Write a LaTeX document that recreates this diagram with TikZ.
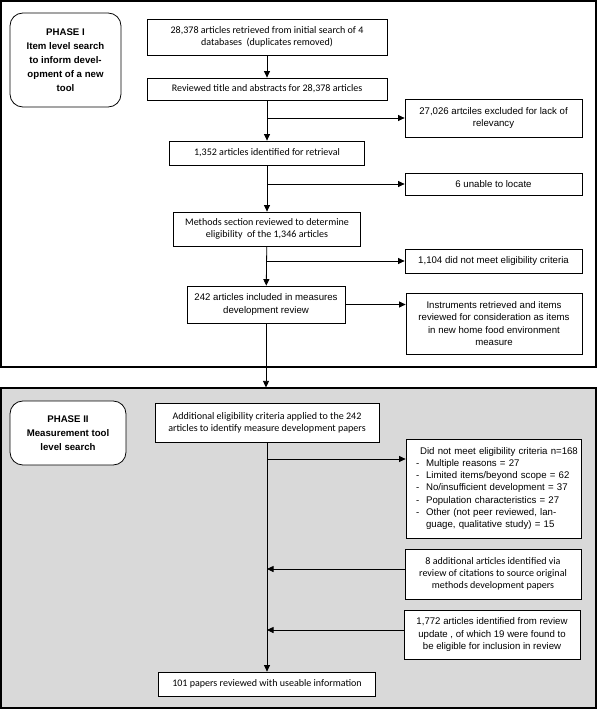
\documentclass[tikz,border=0pt]{standalone}
\usepackage{fontspec}
\setmainfont{Liberation Sans}
\newfontfamily\calibrifont{Carlito}
\usetikzlibrary{arrows.meta}
\newcommand{\pxu}{0.035cm}
\newcommand{\myfontarial}{\fontsize{9.6}{12.2}\selectfont}
\newcommand{\myfontcalibri}{\calibrifont\fontsize{10}{12.2}\selectfont}
\newcommand{\myfontphase}{\bfseries\fontsize{9.6}{13.8}\selectfont}
\newcommand{\dashitem}[1]{\makebox[0.69cm][l]{\hspace{0.34cm}-}#1}
\tikzset{
	boxsize/.style 2 args={minimum width=#1*\pxu,minimum height=#2*\pxu},
	stepbox/.style={draw,line width=0.8pt,fill=white,inner sep=0pt,align=center},
	arialbox/.style={stepbox,font=\myfontarial},
	calibribox/.style={stepbox,font=\myfontcalibri},
	phasebox/.style={draw,line width=0.8pt,fill=white,rounded corners=0.45cm,inner sep=0pt,align=center,font=\myfontphase},
	framebox/.style={draw,line width=1.1pt,inner sep=0pt},
	flow/.style={line width=0.8pt,-{Triangle[length=6.5pt,width=6pt]}}
}
\begin{document}
\begin{tikzpicture}[x=0.035cm,y=-0.035cm]
			\useasboundingbox (0,0) rectangle (600,709);
			%Outer frames of the two phases
			\node [framebox,boxsize={595}{366}] (frameone) at (298.5,184) {};
			\node [framebox,fill=black!15,boxsize={595}{320}] (frametwo) at (298.5,548) {};
			%Phase I
			\node [phasebox,boxsize={111}{94}] (phaseone) at (65.5,60) {PHASE I\\Item level search\\to inform devel-\\opment of a new\\tool};
			\node [calibribox,boxsize={240}{36}] (retrieved) at (267,37) {28,378 articles retrieved from initial search of 4\\databases\ \ (duplicates removed)};
			\node [calibribox,boxsize={240}{22}] (screened) at (267,89) {Reviewed title and abstracts for 28,378 articles};
			\node [arialbox,boxsize={177}{38}] (excluded) at (493.5,118) {27,026 artciles excluded for lack of\\relevancy};
			\node [calibribox,boxsize={195}{24}] (identified) at (267,153) {1,352 articles identified for retrieval};
			\node [arialbox,boxsize={177}{22}] (unable) at (493.5,184) {6 unable to locate};
			\node [calibribox,boxsize={187}{34}] (methods) at (267,229) {Methods section reviewed to determine\\eligibility\ \ of the 1,346 articles};
			\node [arialbox,boxsize={177}{24}] (noteligible) at (493.5,261) {1,104 did not meet eligibility criteria};
			\node [arialbox,boxsize={158}{37}] (included) at (266,304.5) {242 articles included in measures\\development review};
			\node [arialbox,boxsize={176}{61}] (instruments) at (494,323.5) {Instruments retrieved and items\\reviewed for consideration as items\\in new home food environment\\measure};
			%Phase II
			\node [phasebox,boxsize={116}{64}] (phasetwo) at (68,433) {PHASE II\\Measurement tool\\level search};
			\node [calibribox,boxsize={224}{39}] (additional) at (267,422.5) {Additional eligibility criteria applied to the 242\\articles to identify measure development papers};
			\node [arialbox,align=left,text width=6.1cm,inner xsep=0.01cm,boxsize={175}{99}] (didnotmeet) at (493.5,488.5) {\hspace*{0.48cm}Did not meet eligibility criteria n=168\\\dashitem{Multiple reasons = 27}\\\dashitem{Limited items/beyond scope = 62}\\\dashitem{No/insufficient development = 37}\\\dashitem{Population characteristics = 27}\\\dashitem{Other (not peer reviewed, lan-}\\\hspace*{0.69cm}guage, qualitative study) = 15};
			\node [calibribox,boxsize={176}{50}] (citations) at (493,574) {8 additional articles identified via\\review of citations to source original\\methods development papers};
			\node [arialbox,boxsize={176}{49}] (update) at (492,634.5) {1,772 articles identified from review\\update , of which 19 were found to\\be eligible for inclusion in review};
			\node [calibribox,boxsize={217}{24}] (useable) at (267,684) {101 papers reviewed with useable information};
			%Main line of phase I
			\draw [flow] (retrieved) -- (screened);
			\draw [flow] (screened) -- (identified);
			\draw [flow] (identified) -- (methods);
			\draw [flow] (methods) -- (included);
			\draw [flow] (included) -- (included.south |- frametwo.north);
			%Exclusions to the right
			\coordinate (br1) at (267,118);
			\coordinate (br2) at (267,184);
			\coordinate (br3) at (267,261);
			\draw [flow] (br1) -- (excluded);
			\draw [flow] (br2) -- (unable);
			\draw [flow] (br3) -- (noteligible);
			\draw [flow] (included.east) -- (included.east -| instruments.west);
			%Main line of phase II
			\draw [flow] (additional) -- (useable);
			\coordinate (br4) at (267,459);
			\coordinate (jn1) at (267,569);
			\coordinate (jn2) at (267,630);
			\draw [flow] (br4) -- (br4 -| didnotmeet.west);
			\draw [flow] (jn1 -| citations.west) -- (jn1);
			\draw [flow] (jn2 -| update.west) -- (jn2);
\end{tikzpicture}
\end{document}
